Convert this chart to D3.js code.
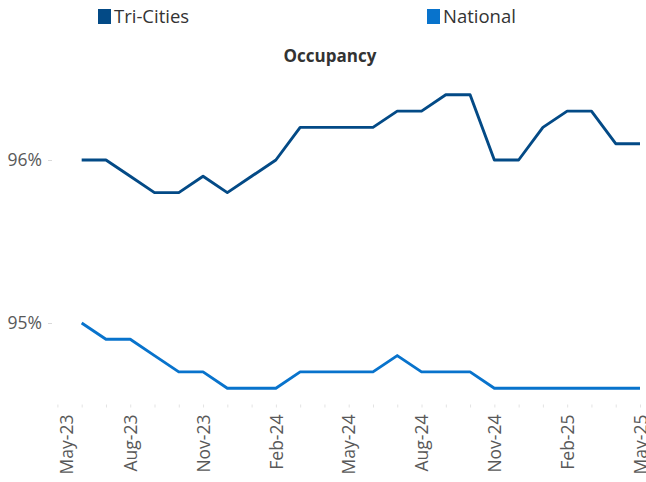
<!DOCTYPE html>
<html><head><meta charset="utf-8">
<script src="https://cdn.jsdelivr.net/npm/d3@7"></script>
<style>body{margin:0;background:#fff}svg{display:block}</style>
</head><body><svg id="c" width="646" height="482"></svg>
<script>
const axisMonths = ["May-23","Jun-23","Jul-23","Aug-23","Sep-23","Oct-23","Nov-23","Dec-23","Jan-24","Feb-24","Mar-24","Apr-24","May-24","Jun-24","Jul-24","Aug-24","Sep-24","Oct-24","Nov-24","Dec-24","Jan-25","Feb-25","Mar-25","Apr-25","May-25"];
const months = axisMonths.slice(1);
const tickLabels = ["May-23","Aug-23","Nov-23","Feb-24","May-24","Aug-24","Nov-24","Feb-25","May-25"];
const triCities = [96.0,96.0,95.9,95.8,95.8,95.9,95.8,95.9,96.0,96.2,96.2,96.2,96.2,96.3,96.3,96.4,96.4,96.0,96.0,96.2,96.3,96.3,96.1,96.1];
const national  = [95.0,94.9,94.9,94.8,94.7,94.7,94.6,94.6,94.6,94.7,94.7,94.7,94.7,94.8,94.7,94.7,94.7,94.6,94.6,94.6,94.6,94.6,94.6,94.6];
const yTicks = [95, 96];
const seriesNames = ["Tri-Cities","National"];
const colors = ["#034A86","#0873CC"];

const svg = d3.select("#c");
const font = "'Open Sans', sans-serif";
const x = d3.scalePoint().domain(axisMonths).range([57.4, 640]);
const y = d3.scaleLinear().domain([94.5, 96.5]).range([404.5, 78.5]);

// y axis labels
const yAxis = svg.append("g").attr("transform","translate(52,0)")
  .call(d3.axisLeft(y).tickValues(yTicks).tickSize(4).tickPadding(6).tickFormat(d => d + "%"));
yAxis.select(".domain").remove();
yAxis.selectAll(".tick line").attr("stroke","#d9d9d9");
yAxis.selectAll("text").attr("fill","#595959").style("font-family",font).style("font-size","17.5px");

// x axis
const xAxis = svg.append("g").attr("transform","translate(0,404.5)")
  .call(d3.axisBottom(x).tickSize(3).tickFormat(d => tickLabels.includes(d) ? d : ""));
xAxis.select(".domain").remove();
xAxis.selectAll(".tick line").attr("stroke","#e3e3e3");
xAxis.selectAll("text")
  .attr("fill","#595959").style("font-family",font).style("font-size","17.5px")
  .attr("text-anchor","end").attr("transform","rotate(-90)")
  .attr("x",-10).attr("y",0).attr("dy", d => d === axisMonths[0] ? "0.85em" : "0.35em");

// lines
const line = d3.line().x((d,i) => x(months[i])).y(d => y(d));
[triCities, national].forEach((s,k) => {
  svg.append("path").datum(s).attr("d", line).attr("fill","none")
    .attr("stroke", colors[k]).attr("stroke-width", 2.9).attr("stroke-linejoin","round");
});

// title
svg.append("text").attr("x",330).attr("y",62).attr("text-anchor","middle")
  .style("font-family",font).style("font-size","17px").style("font-weight","bold")
  .attr("fill","#333").text("Occupancy");

// legend
const legX = [98, 427];
seriesNames.forEach((n,k) => {
  const g = svg.append("g").attr("transform",`translate(${legX[k]},0)`);
  g.append("rect").attr("x",0).attr("y",9).attr("width",13).attr("height",15).attr("fill",colors[k]);
  g.append("text").attr("x",16).attr("y",23).style("font-family",font).style("font-size","18.5px")
    .attr("fill","#333").text(n);
});
</script></body></html>
